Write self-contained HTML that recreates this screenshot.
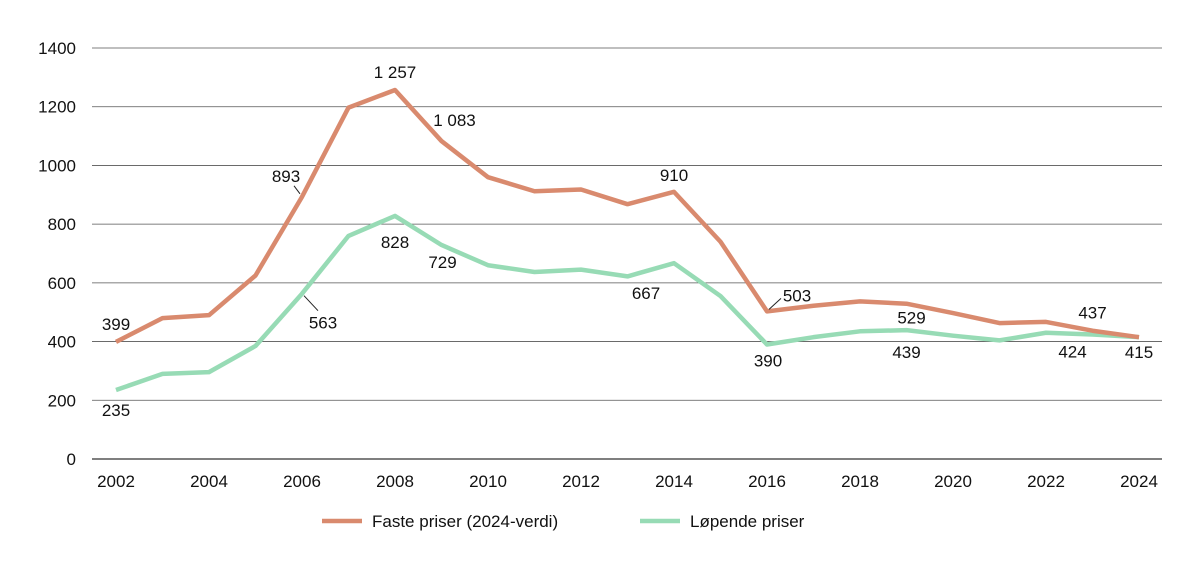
<!DOCTYPE html>
<html><head><meta charset="utf-8"><style>
body{margin:0;background:#fff;font-family:"Liberation Sans",sans-serif;}
svg text{font-family:"Liberation Sans",sans-serif;font-size:17px;fill:#111;}
</style></head><body>
<svg id="chart" width="1198" height="568"></svg>
<script>
const years=[2002,2003,2004,2005,2006,2007,2008,2009,2010,2011,2012,2013,2014,2015,2016,2017,2018,2019,2020,2021,2022,2023,2024];
const fixedPrices=[399,480,490,625,893,1197,1257,1083,960,912,918,868,910,740,503,522,537,529,497,463,467,437,415];
const currentPrices=[235,290,296,385,563,760,828,729,660,637,645,622,667,555,390,415,435,439,420,404,430,424,415];
const yTicks=[0,200,400,600,800,1000,1200,1400];
const xTicks=[2002,2004,2006,2008,2010,2012,2014,2016,2018,2020,2022,2024];
// labelled points: [index, dx, dy (label centre offset), leader offsets or null]
const fixedLabels=[[0,0,-18,null],[4,-16,-21,[-2,-3,-8,-11]],[6,0,-18,null],[7,13,-21,null],[12,0,-17,null],[14,30,-16,[2,-2,14,-13]],[17,5,14,null],[21,0,-18,null],[22,0,15,null]];
const currentLabels=[[0,0,20,null],[4,21,29,[2,2,16,17]],[6,0,26,null],[7,1,17,null],[12,-28,30,null],[14,1,16,null],[17,0,22,null],[21,-20,17,null]];
const svg=document.getElementById('chart');const NS='http://www.w3.org/2000/svg';
const x=v=>116+(v-2002)*(1139-116)/22;
const y=v=>459-v*(459-48)/1400;
function mk(t,a){const e=document.createElementNS(NS,t);for(const k in a)e.setAttribute(k,a[k]);svg.appendChild(e);return e;}
yTicks.forEach(t=>{
 const g=mk('line',{x1:92,x2:1162,y1:y(t),y2:y(t),stroke:t===0?'#333':'#555','stroke-width':t===0?1.2:0.8});
 
 
 const l=mk('text',{x:76,y:y(t)+6,'text-anchor':'end'});l.textContent=t;
 
 
});
xTicks.forEach(t=>{
 const l=mk('text',{x:x(t),y:487,'text-anchor':'middle'});l.textContent=t;
 
 
});
function series(vals,color,name,labels){
 const p=mk('polyline',{points:vals.map((v,i)=>x(years[i])+','+y(v)).join(' '),fill:'none',stroke:color,'stroke-width':4.5,'stroke-linejoin':'round'});
 
 
 labels.forEach(([i,dx,dy,ld])=>{
  const px=x(years[i]),py=y(vals[i]);
  if(ld){const ln=mk('line',{x1:px+ld[0],y1:py+ld[1],x2:px+ld[2],y2:py+ld[3],stroke:'#222','stroke-width':1});
   
   }
  const t=mk('text',{x:px+dx,y:py+dy+6,'text-anchor':'middle'});
  t.textContent=vals[i]>=1000?String(vals[i]).replace(/^(\d)/,'$1 '):vals[i];
  
  
 });
}
series(currentPrices,'#97dbb5','current-prices',currentLabels);
series(fixedPrices,'#d98a6e','fixed-prices',fixedLabels);
const lg1=mk('line',{x1:322,x2:362,y1:521,y2:521,stroke:'#d98a6e','stroke-width':4.5});


const lt1=mk('text',{x:372,y:527});lt1.textContent='Faste priser (2024-verdi)';


const lg2=mk('line',{x1:640,x2:680,y1:521,y2:521,stroke:'#97dbb5','stroke-width':4.5});


const lt2=mk('text',{x:690,y:527});lt2.textContent='Løpende priser';


</script>
</body></html>
